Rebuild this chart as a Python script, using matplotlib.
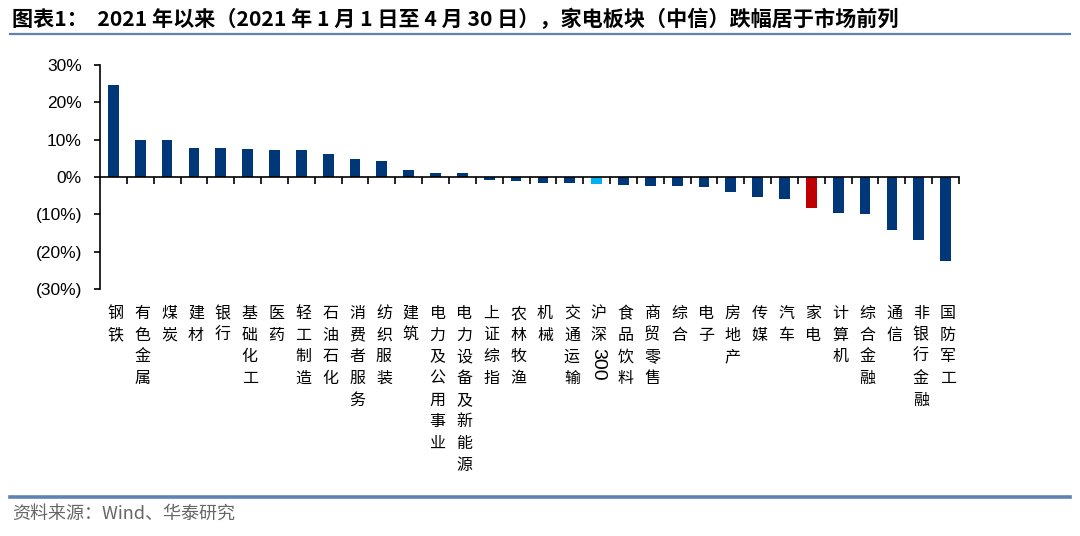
import re
import matplotlib
matplotlib.use("Agg")
import matplotlib.pyplot as plt
from matplotlib.lines import Line2D
from matplotlib.ticker import FuncFormatter, FixedLocator
import numpy as np

plt.rcParams['font.family'] = ['Noto Sans CJK SC', 'DejaVu Sans']

categories = ["钢铁", "有色金属", "煤炭", "建材", "银行", "基础化工", "医药", "轻工制造",
              "石油石化", "消费者服务", "纺织服装", "建筑", "电力及公用事业", "电力设备及新能源",
              "上证综指", "农林牧渔", "机械", "交通运输", "沪深300", "食品饮料", "商贸零售",
              "综合", "电子", "房地产", "传媒", "汽车", "家电", "计算机", "综合金融", "通信",
              "非银行金融", "国防军工"]
values = [24.6, 9.9, 9.9, 7.9, 7.8, 7.5, 7.3, 7.3, 6.1, 4.9, 4.2, 1.8, 1.2, 1.1,
          -0.8, -1.2, -1.7, -1.7, -1.9, -2.1, -2.4, -2.4, -2.8, -3.9, -5.4, -5.8,
          -8.3, -9.6, -10.0, -14.3, -16.8, -22.6]
highlight_index = {"沪深300": "#00B0F0", "家电": "#C00000"}
base_color = "#003778"

title = "图表1：  2021 年以来（2021 年 1 月 1 日至 4 月 30 日），家电板块（中信）跌幅居于市场前列"
source = "资料来源：Wind、华泰研究"

W, H = 1080, 536
fig = plt.figure(figsize=(W / 100, H / 100), dpi=100)
ax_left, ax_right = 100 / W, 959 / W
ax_top, ax_bottom = 1 - 65 / H, 1 - 289 / H
ax = fig.add_axes([ax_left, ax_bottom, ax_right - ax_left, ax_top - ax_bottom])

x = np.arange(len(categories))
colors = [highlight_index.get(c, base_color) for c in categories]
ax.bar(x, values, width=0.4, color=colors, zorder=2)

ax.set_xlim(-0.5, len(categories) - 0.5)
ax.set_ylim(-30, 30)
ax.set_yticks([-30, -20, -10, 0, 10, 20, 30])

def fmt(v, pos):
    v = int(round(v))
    return f"({abs(v)}%)" if v < 0 else f"{v}%"

ax.yaxis.set_major_formatter(FuncFormatter(fmt))
ax.tick_params(axis='y', direction='out', length=4.5, width=1.2, pad=8.5,
               labelsize=12.5, labelcolor='#000000')
for lab in ax.get_yticklabels():
    lab.set_fontfamily(['Liberation Sans', 'DejaVu Sans'])

ax.xaxis.set_major_locator(FixedLocator(np.append(x[1:] - 0.5, x[-1] + 0.5)))
ax.tick_params(axis='x', direction='out', length=5, width=1.2, labelbottom=False)

for s in ['top', 'right']:
    ax.spines[s].set_visible(False)
ax.spines['bottom'].set_position(('data', 0))
ax.spines['bottom'].set_linewidth(1.2)
ax.spines['left'].set_linewidth(1.2)
ax.spines['bottom'].set_zorder(3)

# vertical category labels
pitch = 15.6  # points
start = 11.5
for i, name in enumerate(categories):
    tokens = re.findall(r'\d+|.', name)
    off = start
    for tok in tokens:
        if tok.isdigit():
            ax.annotate(tok, xy=(i, 0), xycoords=('data', 'axes fraction'),
                        xytext=(1, -off), textcoords='offset points',
                        ha='center', va='top', rotation=-90, fontsize=14,
                        family=['Liberation Sans', 'DejaVu Sans'], color='#000000')
            off += 0.556 * 14 * len(tok) + 2
        else:
            ax.annotate(tok, xy=(i, 0), xycoords=('data', 'axes fraction'),
                        xytext=(1.5, -off), textcoords='offset points',
                        ha='center', va='top', fontsize=11.5, color='#000000')
            off += pitch

# title and decorations
fig.text(12 / W, 1 - 19 / H, title, fontsize=15.2, fontweight='bold', ha='left', va='center',
         color='#000000')
fig.add_artist(Line2D([10 / W, 1070 / W], [1 - 33.5 / H, 1 - 33.5 / H], color='#5F82B5',
                      linewidth=1.6, transform=fig.transFigure))
fig.add_artist(Line2D([10 / W, 1070 / W], [1 - 497 / H, 1 - 497 / H], color='#5F82B5',
                      linewidth=2.6, transform=fig.transFigure))
fig.text(12 / W, 1 - 514 / H, source, fontsize=13, ha='left', va='center', color='#666666')

fig.savefig("out.png", dpi=100)
